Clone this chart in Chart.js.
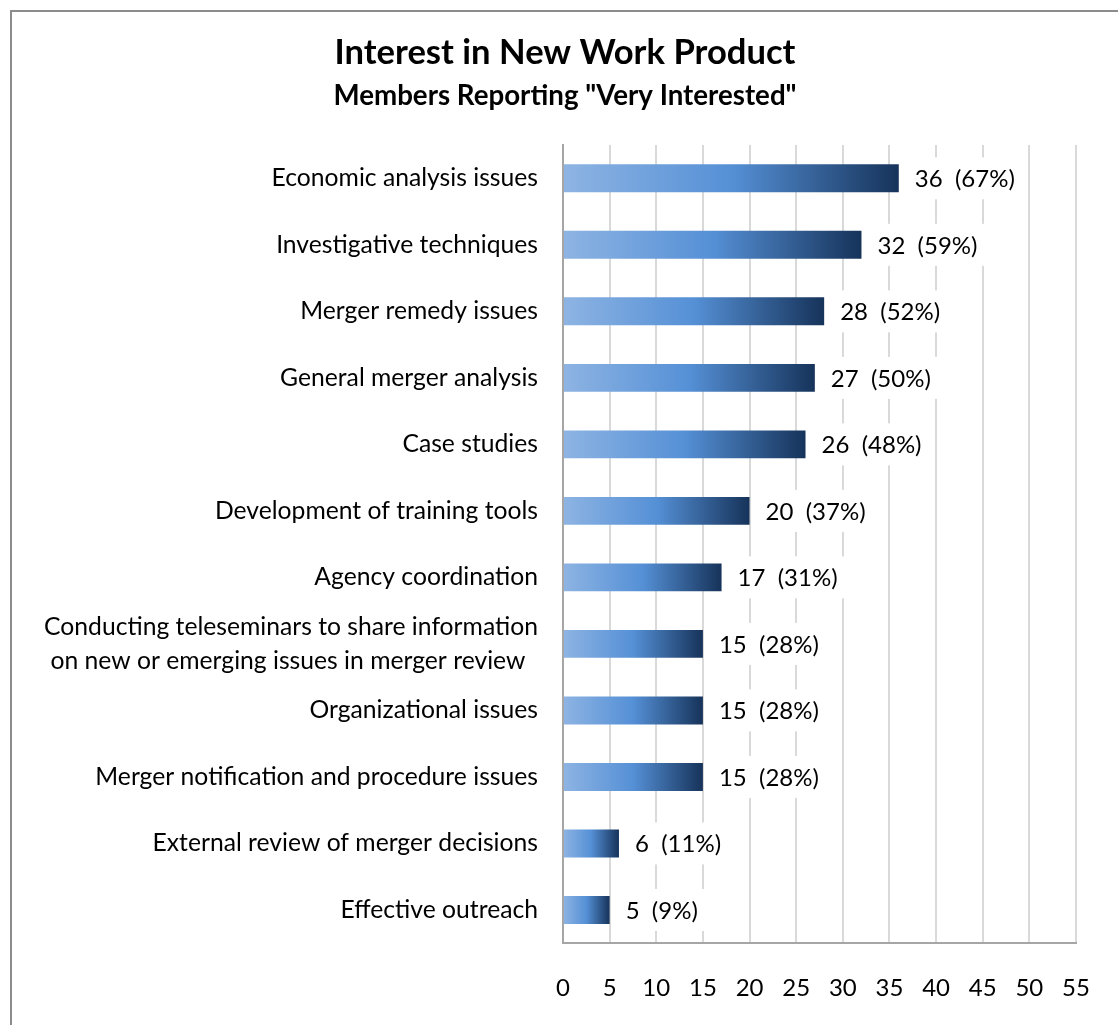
<!DOCTYPE html>
<html>
<head>
<meta charset="utf-8">
<script src="https://cdn.jsdelivr.net/npm/chart.js@4/dist/chart.umd.min.js"></script>
<style>
  html, body { margin: 0; padding: 0; background: #ffffff; }
  #wrap { position: relative; width: 1118px; height: 1025px; overflow: hidden; }
  #frame {
    position: absolute; left: 10px; top: 10px; width: 1200px; height: 1100px;
    border-left: 2px solid #8c8c8c; border-top: 2px solid #8c8c8c;
    box-sizing: border-box; pointer-events: none;
  }
  canvas { position: absolute; left: 0; top: 0; }
</style>
</head>
<body>
<div id="wrap">
  <canvas id="chart" width="1118" height="1025"></canvas>
  <div id="frame"></div>
</div>
<script>
// Survey topics, top to bottom
const categories = [
  'Economic analysis issues',
  'Investigative techniques',
  'Merger remedy issues',
  'General merger analysis',
  'Case studies',
  'Development of training tools',
  'Agency coordination',
  ['Conducting teleseminars to share information', 'on new or emerging issues in merger review  '],
  'Organizational issues',
  'Merger notification and procedure issues',
  'External review of merger decisions',
  'Effective outreach'
];

// Number of members answering "Very Interested"
const counts = [36, 32, 28, 27, 26, 20, 17, 15, 15, 15, 6, 5];

// Share of respondents, shown beside each count
const percents = [67, 59, 52, 50, 48, 37, 31, 28, 28, 28, 11, 9];

// Horizontal axis ticks
const xTicks = [0, 5, 10, 15, 20, 25, 30, 35, 40, 45, 50, 55];

const FONT = 'Lato, Calibri, Carlito, sans-serif';

// Left-to-right gradient spanning each bar's own length
function barGradient(ctx) {
  const chart = ctx.chart;
  const xs = chart.scales.x;
  if (!chart.chartArea || !xs || ctx.raw == null) return '#558ed5';
  const x0 = xs.getPixelForValue(0);
  const x1 = xs.getPixelForValue(ctx.raw);
  const g = chart.ctx.createLinearGradient(x0, 0, x1, 0);
  g.addColorStop(0, '#8eb4e3');
  g.addColorStop(0.5, '#5590d6');
  g.addColorStop(1, '#16335a');
  return g;
}

// Count and percentage written to the right of each bar on a white patch
const valueLabels = {
  id: 'valueLabels',
  afterDatasetsDraw(chart) {
    const c = chart.ctx;
    const meta = chart.getDatasetMeta(0);
    c.save();
    c.font = '24px ' + FONT;
    c.textBaseline = 'middle';
    c.textAlign = 'left';
    meta.data.forEach((bar, i) => {
      const text = counts[i] + '  (' + percents[i] + '%)';
      const w = c.measureText(text).width;
      const tx = bar.x + 16;
      c.fillStyle = '#ffffff';
      c.fillRect(tx - 9, bar.y - 21, w + 18, 42);
      c.fillStyle = '#000000';
      c.fillText(text, tx, bar.y + 1);
    });
    c.restore();
  }
};

new Chart(document.getElementById('chart'), {
  type: 'bar',
  data: {
    labels: categories,
    datasets: [{
      data: counts,
      backgroundColor: barGradient,
      borderWidth: 0,
      barPercentage: 0.42,
      categoryPercentage: 1.0
    }]
  },
  options: {
    indexAxis: 'y',
    responsive: false,
    animation: false,
    events: [],
    layout: { padding: { left: 12, right: 0, top: 0, bottom: -9 } },
    plugins: {
      legend: { display: false },
      tooltip: { enabled: false },
      title: {
        display: true,
        text: 'Interest in New Work Product',
        color: '#000000',
        font: { family: FONT, size: 34.6, weight: 'bold', lineHeight: 1.2 },
        padding: { top: 32, bottom: 1 }
      },
      subtitle: {
        display: true,
        text: 'Members Reporting "Very Interested"',
        color: '#000000',
        font: { family: FONT, size: 27.7, weight: 'bold', lineHeight: 1.2 },
        padding: { top: 5, bottom: 32.3 }
      }
    },
    scales: {
      x: {
        min: 0,
        max: 55,
        afterBuildTicks(scale) { scale.ticks = xTicks.map(v => ({ value: v })); },
        // keep the right margin fixed instead of tick-padding driven
        afterFit(scale) { scale.paddingRight = 42; },
        grid: { color: '#d9d9d9', lineWidth: 2, drawTicks: false },
        border: { display: true, color: '#a6a6a6', width: 2 },
        ticks: {
          color: '#000000',
          padding: 31,
          font: { family: FONT, size: 24 }
        }
      },
      y: {
        afterFit(scale) { scale.width = 551; },
        grid: { display: false, drawTicks: false },
        border: { display: true, color: '#a6a6a6', width: 2 },
        ticks: {
          autoSkip: false,
          color: '#000000',
          padding: 25,
          font: { family: FONT, size: 24.7, lineHeight: 1.38 }
        }
      }
    }
  },
  plugins: [valueLabels]
});
</script>
</body>
</html>
